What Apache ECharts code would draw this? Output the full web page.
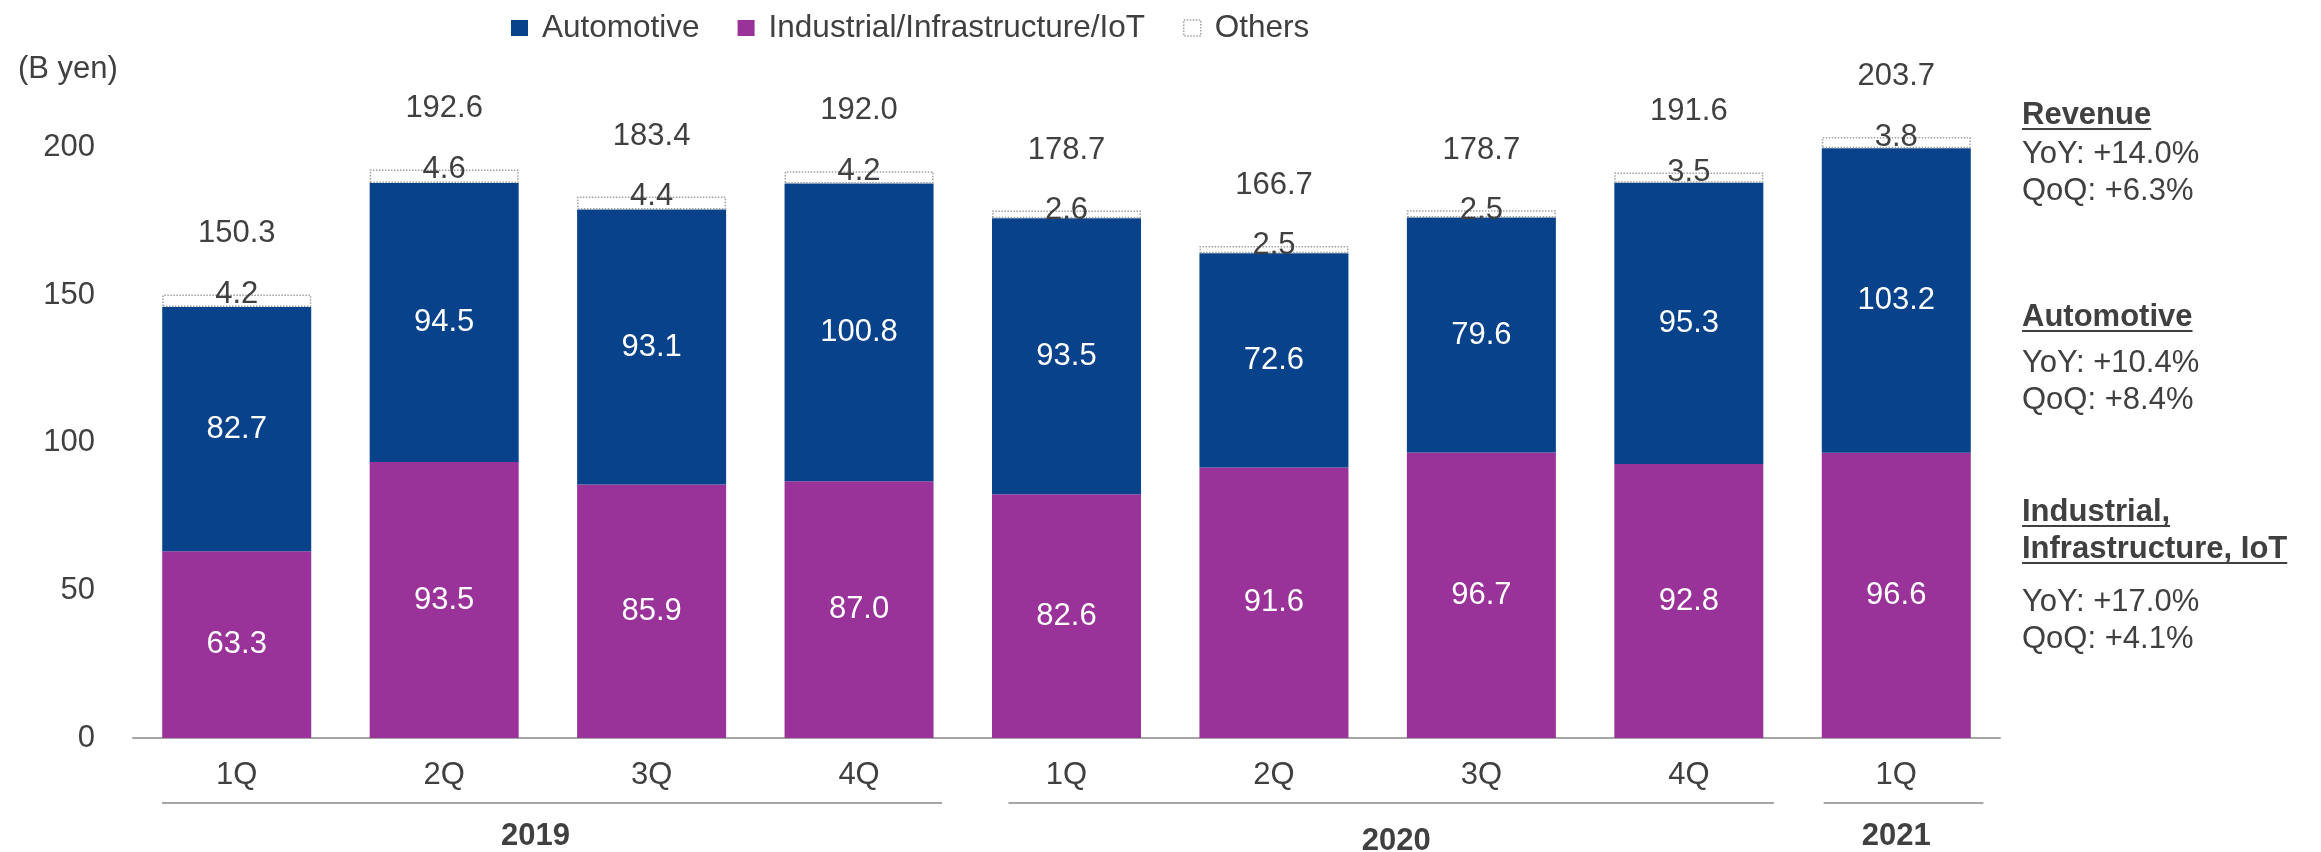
<!DOCTYPE html>
<html>
<head>
<meta charset="utf-8">
<script src="https://cdn.jsdelivr.net/npm/echarts@6/dist/echarts.min.js"></script>
<style>
  html, body { margin: 0; padding: 0; background: #fff; }
  #main { width: 2321px; height: 852px; }
</style>
</head>
<body>
<div id="main"></div>
<script>
// data (B yen)
var categories = ['1Q', '2Q', '3Q', '4Q', '1Q', '2Q', '3Q', '4Q', '1Q'];
var industrial = [63.3, 93.5, 85.9, 87.0, 82.6, 91.6, 96.7, 92.8, 96.6];
var automotive = [82.7, 94.5, 93.1, 100.8, 93.5, 72.6, 79.6, 95.3, 103.2];
var others = [4.2, 4.6, 4.4, 4.2, 2.6, 2.5, 2.5, 3.5, 3.8];
var totals = [150.3, 192.6, 183.4, 192.0, 178.7, 166.7, 178.7, 191.6, 203.7];
var yTicks = [0, 50, 100, 150, 200];

// year groups under the quarter labels
var years = ['2019', '2020', '2021'];
var yearStart = [0, 4, 8];
var yearEnd = [3, 7, 8];

// notes on the right
var noteTexts = ['Revenue', 'YoY: +14.0%', 'QoQ: +6.3%',
  'Automotive', 'YoY: +10.4%', 'QoQ: +8.4%',
  'Industrial,', 'Infrastructure, IoT', 'YoY: +17.0%', 'QoQ: +4.1%'];
var noteBold = [true, false, false, true, false, false, true, true, false, false];

var FONT = '"Liberation Sans", Arial, sans-serif';
var TXT = '#404040';
var GRAY = '#a6a6a6';
var FS = 31;

function fmt(p) {
  return Number(p.value).toFixed(1);
}

var option = {
  animation: false,
  textStyle: { fontFamily: FONT, color: TXT },
  title: {
    text: '(B yen)',
    left: 13,
    top: 49,
    textStyle: { fontFamily: FONT, fontSize: FS, fontWeight: 'normal', color: TXT }
  },
  legend: {
    data: [
      { name: 'Automotive' },
      { name: 'Industrial/Infrastructure/IoT' },
      { name: 'Others', itemStyle: { color: '#fff', borderColor: '#a0a0a0', borderWidth: 1.5, borderType: 'dotted' } }
    ],
    icon: 'rect',
    left: 506,
    top: 7,
    itemWidth: 17,
    itemHeight: 16,
    itemGap: 38,
    formatter: function (name) {
      return '{s|}' + name;
    },
    textStyle: {
      fontFamily: FONT, fontSize: 31.5, color: TXT,
      rich: { s: { width: 9 } }
    }
  },
  grid: {
    left: 133,
    right: 321,
    top: 0,
    bottom: 114
  },
  xAxis: {
    type: 'category',
    data: categories,
    axisLine: { lineStyle: { color: GRAY, width: 2 } },
    axisTick: { show: false },
    axisLabel: { margin: 22, fontSize: FS, color: TXT, fontFamily: FONT }
  },
  yAxis: {
    type: 'value',
    min: 0,
    max: 250,
    interval: 50,
    axisLine: { show: false },
    axisTick: { show: false },
    splitLine: { show: false },
    axisLabel: {
      margin: 38,
      fontSize: FS,
      color: TXT,
      fontFamily: FONT,
      formatter: function (v) {
        return yTicks.indexOf(v) >= 0 ? String(v) : '';
      }
    }
  },
  series: [
    {
      name: 'Industrial/Infrastructure/IoT',
      type: 'bar',
      stack: 'rev',
      barWidth: 149,
      data: industrial,
      itemStyle: { color: '#993399' },
      label: { show: true, position: 'inside', color: '#fff', fontSize: FS, fontFamily: FONT, formatter: fmt }
    },
    {
      name: 'Automotive',
      type: 'bar',
      stack: 'rev',
      barWidth: 149,
      data: automotive,
      itemStyle: { color: '#07428b' },
      label: { show: true, position: 'inside', color: '#fff', fontSize: FS, fontFamily: FONT, formatter: fmt }
    },
    {
      name: 'Others',
      type: 'bar',
      stack: 'rev',
      barWidth: 149,
      data: others,
      itemStyle: { color: '#fff', borderColor: '#a0a0a0', borderWidth: 1.5, borderType: 'dotted' },
      label: {
        show: true, position: 'top', distance: 0, verticalAlign: 'middle',
        color: TXT, fontSize: FS, fontFamily: FONT, formatter: fmt
      }
    },
    {
      // totals above each bar
      name: 'Total',
      type: 'scatter',
      data: totals,
      symbolSize: 1,
      silent: true,
      itemStyle: { color: 'rgba(0,0,0,0)', opacity: 1 },
      label: {
        show: true, position: 'top', distance: 60, verticalAlign: 'middle',
        color: TXT, fontSize: FS, fontFamily: FONT, formatter: fmt, opacity: 1
      },
      z: 5
    }
  ]
};

var chart = echarts.init(document.getElementById('main'));
chart.setOption(option);

// year brackets + notes, placed from the axis scale
var c0 = chart.convertToPixel({ xAxisIndex: 0 }, 0);
var c1 = chart.convertToPixel({ xAxisIndex: 0 }, 1);
var step = c1 - c0;
var lineLeft = [-0.36, -0.28, -0.35];
var lineRight = [0.40, 0.41, 0.42];
var labelPos = [1.44, 5.59, 8];
var labelY = [836, 841, 836];
var graphics = [];

years.forEach(function (y, i) {
  var xa = c0 + (yearStart[i] + lineLeft[i]) * step;
  var xb = c0 + (yearEnd[i] + lineRight[i]) * step;
  graphics.push({
    type: 'line',
    shape: { x1: xa, y1: 803, x2: xb, y2: 803 },
    style: { stroke: GRAY, lineWidth: 2 },
    silent: true
  });
  graphics.push({
    type: 'text',
    x: c0 + labelPos[i] * step,
    y: labelY[i],
    style: {
      text: y, fill: TXT, font: 'bold ' + FS + 'px ' + FONT,
      textAlign: 'center', textVerticalAlign: 'middle'
    },
    silent: true
  });
});

var ctx = document.createElement('canvas').getContext('2d');
var noteY = [115, 154, 191, 317, 363, 400, 512, 549, 602, 639];
noteTexts.forEach(function (t, i) {
  var font = (noteBold[i] ? 'bold ' : '') + FS + 'px ' + FONT;
  graphics.push({
    type: 'text',
    x: 2022,
    y: noteY[i],
    style: { text: t, fill: TXT, font: font, textAlign: 'left', textVerticalAlign: 'middle' },
    silent: true
  });
  if (noteBold[i]) {
    ctx.font = font;
    var w = ctx.measureText(t).width;
    graphics.push({
      type: 'line',
      shape: { x1: 2022, y1: noteY[i] + 14, x2: 2022 + w, y2: noteY[i] + 14 },
      style: { stroke: TXT, lineWidth: 2 },
      silent: true
    });
  }
});

chart.setOption({ graphic: graphics });
</script>
</body>
</html>
